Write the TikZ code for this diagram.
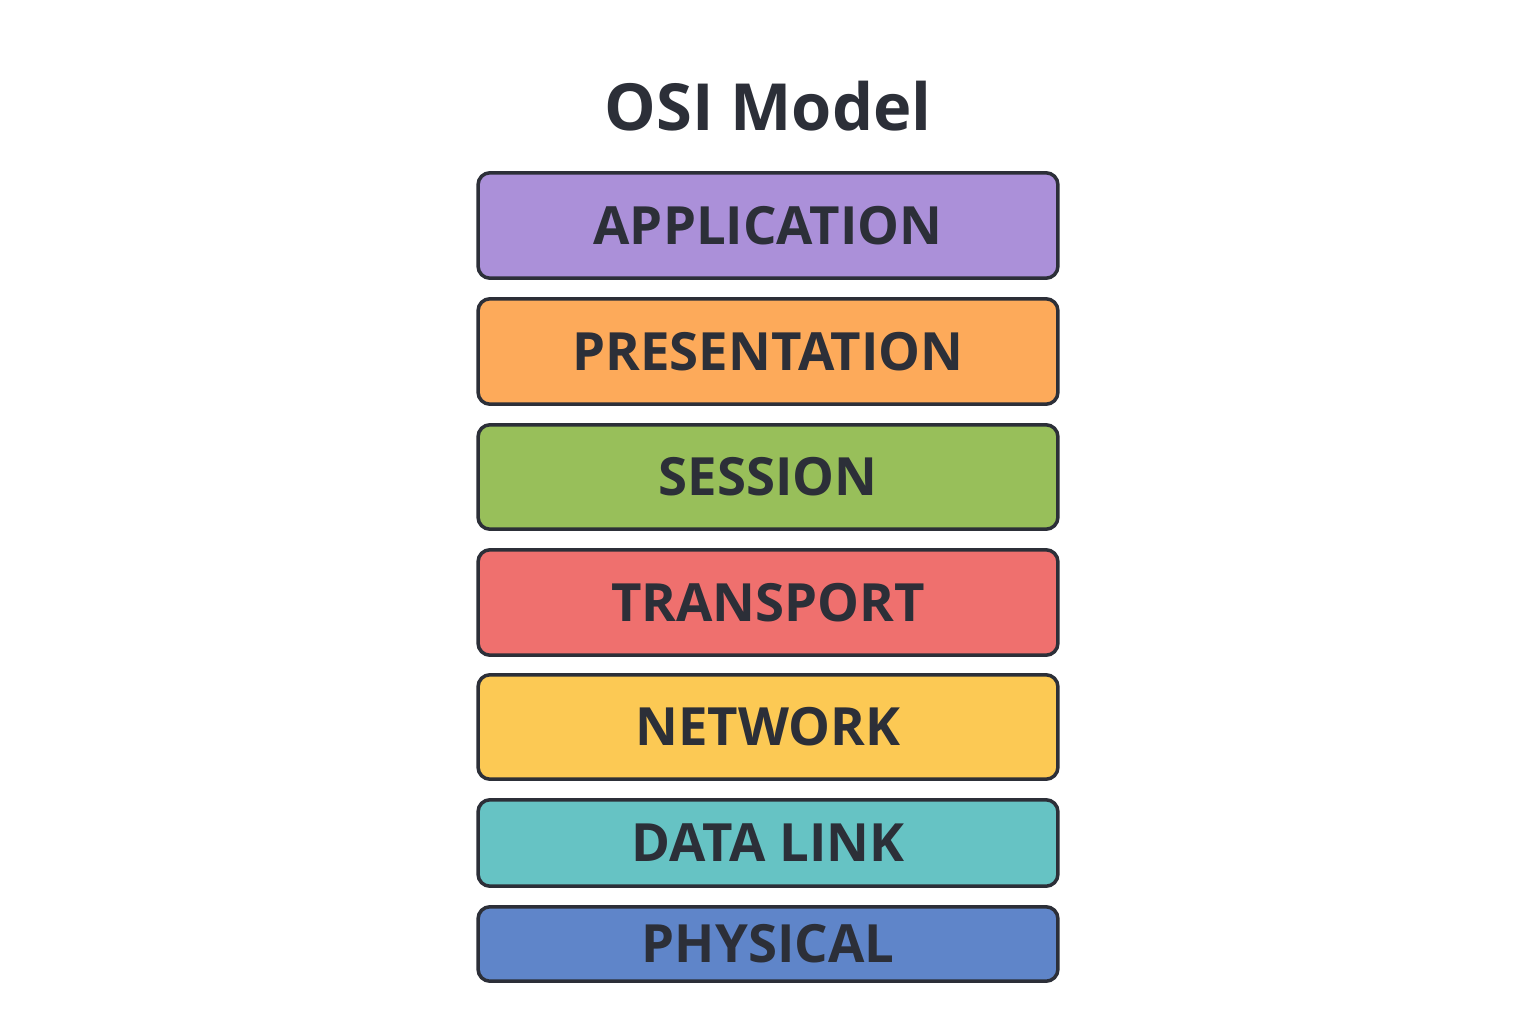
\documentclass[tikz,border=0pt]{standalone}
\usepackage{fontspec}
\setmainfont{Open Sans}
\usepackage{xcolor}
\usepackage{tikz}
\usetikzlibrary{positioning}
\definecolor{inkdark}{RGB}{44, 47, 56}
\definecolor{applpurple}{RGB}{171, 144, 217}
\definecolor{presorange}{RGB}{253, 170, 90}
\definecolor{sessgreen}{RGB}{152, 191, 90}
\definecolor{transred}{RGB}{239, 112, 110}
\definecolor{netyellow}{RGB}{252, 201, 84}
\definecolor{linkteal}{RGB}{102, 195, 196}
\definecolor{physblue}{RGB}{95, 133, 201}

\begin{document}
\begin{tikzpicture}[x=0.02cm, y=-0.02cm,
    layer/.style={draw=inkdark, line width=0.07cm, rounded corners=0.24cm,
      minimum width=11.6cm, inner sep=0pt, text=inkdark,
      font=\fontsize{30}{36}\selectfont\bfseries}]
    \useasboundingbox (0,0) rectangle (1536,1024);
    % title
    \node[text=inkdark, font=\fontsize{37}{44}\selectfont\bfseries]
      (title) at (768,106) {OSI Model};
    % the seven layers, top to bottom
    \foreach \n/\y/\h/\c/\t in {appl/225.5/2.11/applpurple/APPLICATION,
                               pres/351.5/2.11/presorange/PRESENTATION,
                               sess/477/2.09/sessgreen/SESSION,
                               trans/602.5/2.11/transred/TRANSPORT,
                               net/727/2.09/netyellow/NETWORK,
                               link/843/1.73/linkteal/DATA LINK,
                               phys/944/1.49/physblue/PHYSICAL}
      \node[layer, fill=\c, minimum height=\h cm] (\n) at (768,\y) {\t};
  \end{tikzpicture}
\end{document}
